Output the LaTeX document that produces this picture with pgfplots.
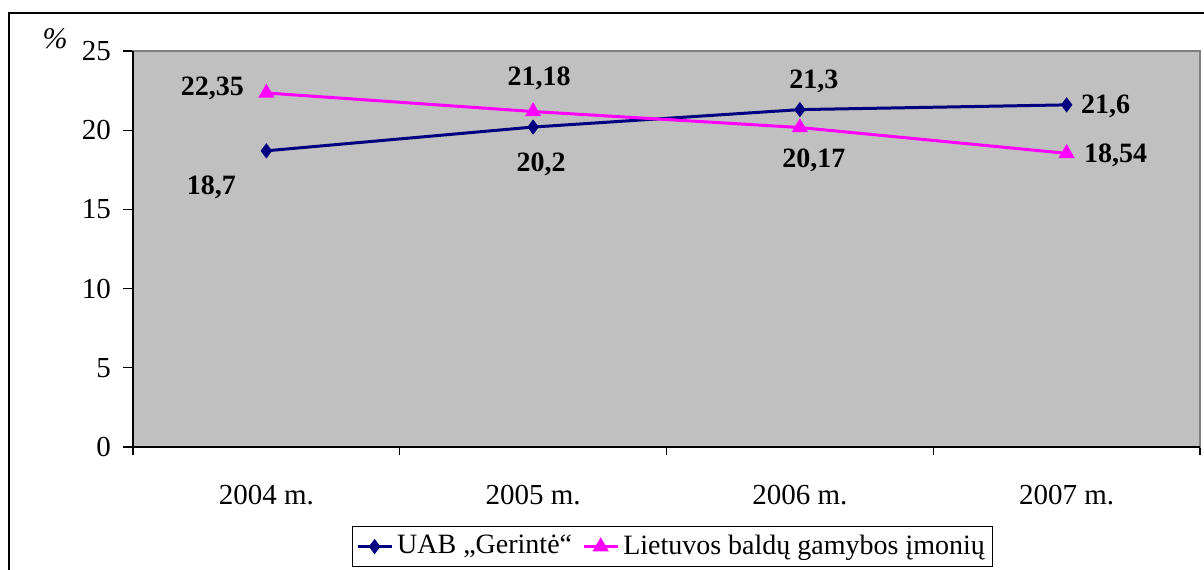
\documentclass[border=0pt]{standalone}
\usepackage{fontspec}
\setmainfont{Liberation Serif}
\usepackage{pgfplots}
\pgfplotsset{compat=1.18}
\definecolor{plotgray}{HTML}{C0C0C0}
\definecolor{uabnavy}{HTML}{000080}
\definecolor{litmag}{HTML}{FF00FF}
\begin{document}
\fontsize{14.5}{17}\selectfont
\begin{tikzpicture}
\useasboundingbox (0pt,0pt) rectangle (602pt,-284.5pt);
\draw[line width=1pt] (4.5pt,-290pt) -- (4.5pt,-6.5pt) -- (610pt,-6.5pt);
\node[font=\itshape\fontsize{15}{17}\selectfont] at (27.5pt,-19.5pt) {\%};
\begin{axis}[
  at={(66.5pt,-223.5pt)}, anchor=south west,
  scale only axis, width=533.5pt, height=198pt,
  xmin=-0.5, xmax=3.5, ymin=0, ymax=25,
  xtick={0,1,2,3},
  xticklabels={2004 m.,2005 m.,2006 m.,2007 m.},
  minor xtick={-0.5,0.5,1.5,2.5,3.5},
  ytick={0,5,10,15,20,25},
  xtick pos=lower, ytick pos=left,
  tick align=outside,
  major x tick style={draw=none},
  minor tick length=4pt,
  major tick length=5pt,
  tick style={black, line width=0.6pt},
  xticklabel style={yshift=-9pt},
  yticklabel style={xshift=-1pt},
  ticklabel style={font=\fontsize{14.5}{17}\selectfont},
  /pgf/number format/assume math mode=true,
  axis background/.style={fill=plotgray},
  axis line style={draw=gray, line width=0.6pt},
  clip=false,
  legend columns=2,
  legend style={at={(0.5056,-0.2)}, anchor=north, draw=black, line width=0.5pt,
    font=\fontsize{14}{17}\selectfont, inner sep=2pt,
    /tikz/every even column/.append style={column sep=3pt}},
  legend cell align=left,
]
\draw[black, line width=1pt] (rel axis cs:0,1) -- (rel axis cs:0,0) -- (rel axis cs:1,0);
\addplot[uabnavy, line width=1.5pt, mark=diamond*, mark size=2.6pt, mark options={solid}]
  coordinates {(0,18.7) (1,20.2) (2,21.3) (3,21.6)};
\addlegendentry{UAB „Gerintė“}
\addplot[litmag, line width=1.5pt, mark=triangle*, mark size=3.2pt, mark options={solid}]
  coordinates {(0,22.35) (1,21.18) (2,20.17) (3,18.54)};
\addlegendentry{Lietuvos baldų gamybos įmonių}
\tikzset{dl/.style={font=\bfseries\fontsize{14}{16}\selectfont, inner sep=0pt}}
\node[dl, xshift=-27.5pt, yshift=-18.5pt] at (axis cs:0,18.7) {18,7};
\node[dl, xshift=4pt, yshift=-18.5pt] at (axis cs:1,20.2) {20,2};
\node[dl, xshift=7pt, yshift=14pt] at (axis cs:2,21.3) {21,3};
\node[dl, xshift=19.5pt, yshift=-1pt] at (axis cs:3,21.6) {21,6};
\node[dl, xshift=-27pt, yshift=2.5pt] at (axis cs:0,22.35) {22,35};
\node[dl, xshift=3pt, yshift=16.5pt] at (axis cs:1,21.18) {21,18};
\node[dl, xshift=7pt, yshift=-16.5pt] at (axis cs:2,20.17) {20,17};
\node[dl, xshift=24.5pt, yshift=-1pt] at (axis cs:3,18.54) {18,54};
\end{axis}
\end{tikzpicture}
\end{document}
